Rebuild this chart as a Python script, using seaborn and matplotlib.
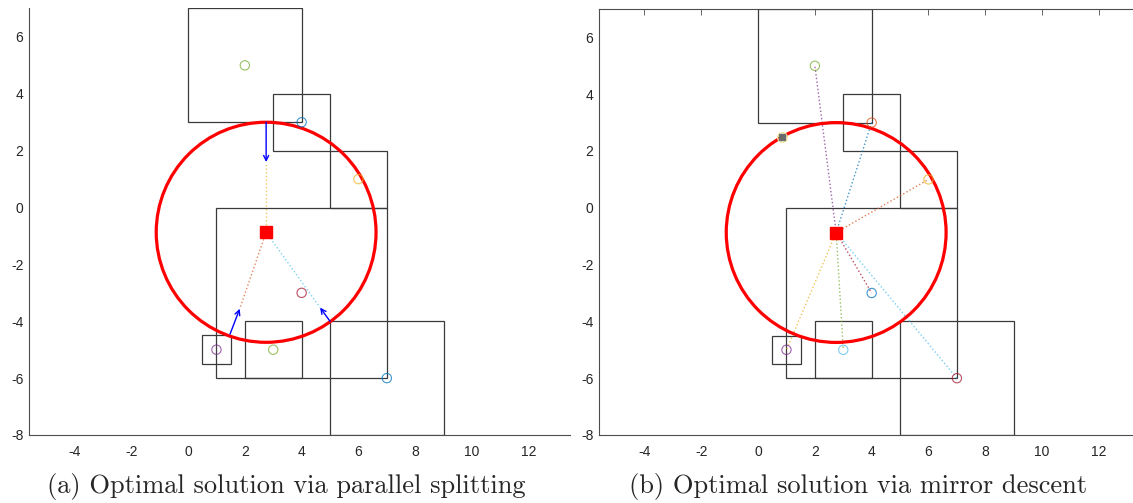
import matplotlib
matplotlib.use('Agg')
import matplotlib.pyplot as plt
import seaborn as sns
import pandas as pd
from matplotlib.patches import Rectangle, Circle

sns.set_style('white')
plt.rcParams['axes.unicode_minus'] = False
plt.rcParams['font.family'] = ['Liberation Sans', 'DejaVu Sans']

# matlab default colour order
mcol = {'blue': '#0072bd', 'orange': '#d95319', 'yellow': '#edb120',
        'purple': '#7e2f8e', 'green': '#77ac30', 'lightblue': '#4dbeee',
        'darkred': '#a2142f'}

# the square sets (centre + side length)
set_x = [2, 4, 6, 4, 1, 3, 7]
set_y = [5, 3, 1, -3, -5, -5, -6]
set_side = [4, 2, 2, 6, 1, 2, 4]
colors_a = ['green', 'blue', 'yellow', 'darkred', 'purple', 'green', 'blue']
colors_b = ['green', 'orange', 'yellow', 'blue', 'purple', 'lightblue', 'darkred']

# optimal ball
sol_x, sol_y = 2.75, -0.87
radius = 3.87

# (a) parallel splitting: arrows from tail to head, dotted line from centre to head
arr_tail_x = [2.75, 1.48, 5.0]
arr_tail_y = [3.0, -4.45, -4.0]
arr_head_x = [2.75, 1.82, 4.65]
arr_head_y = [1.6, -3.56, -3.52]
arr_colors = ['yellow', 'orange', 'lightblue']

# (b) mirror descent: dotted line from centre to every point
line_colors_b = ['purple', 'blue', 'orange', 'darkred', 'yellow', 'green', 'lightblue']
extra_x, extra_y = [0.84], [2.48]

captions = ['(a) Optimal solution via parallel splitting',
            '(b) Optimal solution via mirror descent']

W, H = 1133, 503
fig = plt.figure(figsize=(W / 100, H / 100), dpi=100)
ax1 = fig.add_axes([29 / W, 68 / H, 541 / W, 426.5 / H])
ax2 = fig.add_axes([599 / W, 68 / H, 534 / W, 426 / H])


def draw_common(ax, mk_colors):
    for cx, cy, s in zip(set_x, set_y, set_side):
        ax.add_patch(Rectangle((cx - s / 2, cy - s / 2), s, s, fill=False,
                               ec='#3a3a3a', lw=0.9, zorder=2))
    ax.add_patch(Circle((sol_x, sol_y), radius, fill=False, ec='#ff0000',
                        lw=2.3, zorder=4))
    df = pd.DataFrame({'x': set_x, 'y': set_y, 'c': mk_colors})
    sns.scatterplot(data=df, x='x', y='y', hue='c', palette=mcol, s=45,
                    marker='o', linewidth=0.8, legend=False, ax=ax, zorder=5)
    pts = ax.collections[-1]
    pts.set_edgecolors(pts.get_facecolors())
    pts.set_facecolors('none')
    pts.set_alpha(0.75)
    ax.plot([sol_x], [sol_y], marker='s', ms=9, color='#ff0000', ls='none', zorder=6)


def style_axes(ax, xmax, top):
    ax.set_xlim(-5.6, xmax)
    ax.set_ylim(-8, 7)
    ax.set_xticks(range(-4, 13, 2))
    ax.set_yticks(range(-8, 7, 2))
    ax.set_xlabel('')
    ax.set_ylabel('')
    for side in ['left', 'bottom', 'top']:
        ax.spines[side].set_color('#4d4d4d')
        ax.spines[side].set_linewidth(0.8)
    ax.spines['right'].set_visible(False)
    ax.spines['top'].set_visible(top)
    ax.tick_params(direction='in', length=4, width=0.6, color='#4d4d4d',
                   labelsize=10, labelcolor='#262626', top=top, right=False)
    ax.tick_params(axis='x', pad=7)
    ax.tick_params(axis='y', pad=4)


# panel (a)
draw_common(ax1, colors_a)
for tx, ty, hx, hy, c in zip(arr_tail_x, arr_tail_y, arr_head_x, arr_head_y, arr_colors):
    ax1.plot([sol_x, hx], [sol_y, hy], ls=':', lw=1, color=mcol[c], alpha=0.7, zorder=3)
    ax1.annotate('', xy=(hx, hy), xytext=(tx, ty),
                 arrowprops=dict(arrowstyle='->', color='#0000ff', lw=1.0,
                                 mutation_scale=9, shrinkA=0, shrinkB=0), zorder=5)
style_axes(ax1, 13.45, False)

# panel (b)
draw_common(ax2, colors_b)
for px, py, c in zip(set_x, set_y, line_colors_b):
    ax2.plot([sol_x, px], [sol_y, py], ls=':', lw=1, color=mcol[c], alpha=0.75, zorder=3)
ax2.plot(extra_x, extra_y, marker='o', ms=7, mfc='none', mec='#f5e9a0', ls='none', zorder=5)
ax2.plot(extra_x, extra_y, marker='s', ms=4, color='#6b6b6b', ls='none', zorder=6)
style_axes(ax2, 13.2, True)

fig.text(286 / W, 10 / H, captions[0], family='cmr10', fontsize=19, ha='center', va='baseline')
fig.text(858 / W, 10 / H, captions[1], family='cmr10', fontsize=19, ha='center', va='baseline')

fig.savefig('out.png', dpi=100)
